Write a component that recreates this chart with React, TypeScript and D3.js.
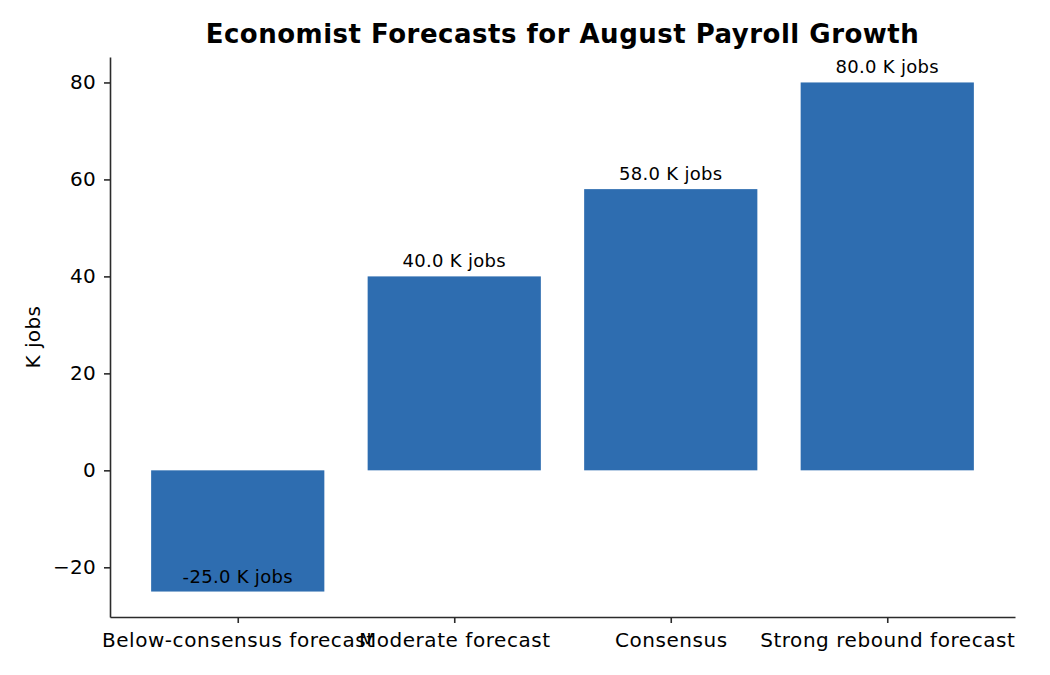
import { useEffect, useRef } from "react";
import * as d3 from "d3";

const categories = [
  "Below-consensus forecast",
  "Moderate forecast",
  "Consensus",
  "Strong rebound forecast",
];
const values = [-25, 40, 58, 80];
const yTicks = [-20, 0, 20, 40, 60, 80];

export default function App() {
  const width = 1050;
  const height = 675;
  const marginTop = 57;
  const marginRight = 35;
  const marginBottom = 58;
  const marginLeft = 110;
  const ref = useRef<SVGSVGElement>(null);

  useEffect(() => {
    const svg = d3.select(ref.current);
    svg.selectAll("*").remove();
    const font = "DejaVu Sans, sans-serif";
    const ink = "#2b2b2b";

    // matplotlib-like margins: bars 0.8 wide, 5% padding
    const n = categories.length;
    const x = d3
      .scaleLinear()
      .domain([-0.4 - 0.05 * (n - 0.2), n - 0.6 + 0.05 * (n - 0.2)])
      .range([marginLeft, width - marginRight]);
    const lo = Math.min(0, d3.min(values)!);
    const hi = Math.max(0, d3.max(values)!);
    const pad = (hi - lo) * 0.05;
    const y = d3
      .scaleLinear()
      .domain([lo - pad, hi + pad])
      .range([height - marginBottom, marginTop]);

    // bars
    svg
      .append("g")
      .selectAll("rect")
      .data(values)
      .enter()
      .append("rect")
      .attr("x", (d, i) => x(i - 0.4))
      .attr("width", x(0.8) - x(0))
      .attr("y", (d) => y(Math.max(0, d)))
      .attr("height", (d) => Math.abs(y(d) - y(0)))
      .attr("fill", "#2e6db0");

    // value labels
    svg
      .append("g")
      .selectAll("text")
      .data(values)
      .enter()
      .append("text")
      .attr("x", (d, i) => x(i))
      .attr("y", (d) => y(d) - 9)
      .attr("text-anchor", "middle")
      .style("font-family", font)
      .style("font-size", "18px")
      .style("letter-spacing", "0.3px")
      .text((d) => `${d.toFixed(1)} K jobs`);

    // x axis
    svg
      .append("g")
      .attr("transform", `translate(0, ${height - marginBottom})`)
      .call(
        d3
          .axisBottom(x)
          .tickValues(d3.range(n))
          .tickFormat((i) => categories[i as number])
          .tickSize(6)
          .tickSizeOuter(0),
      )
      .call((g) => g.select(".domain").attr("stroke", ink).attr("stroke-width", 1.6))
      .call((g) => g.selectAll(".tick line").attr("stroke", ink).attr("stroke-width", 1.6))
      .call((g) =>
        g
          .selectAll(".tick text")
          .attr("fill", "#000")
          .attr("y", 0)
          .attr("dy", 30)
          .style("font-family", font)
          .style("font-size", "20px")
          .style("letter-spacing", "0.55px"),
      );

    // y axis
    svg
      .append("g")
      .attr("transform", `translate(${marginLeft}, 0)`)
      .call(
        d3
          .axisLeft(y)
          .tickValues(yTicks)
          .tickFormat((d) => ((d as number) < 0 ? `\u2212${Math.abs(d as number)}` : `${d}`))
          .tickSize(6)
          .tickSizeOuter(0),
      )
      .call((g) => g.select(".domain").attr("stroke", ink).attr("stroke-width", 1.6))
      .call((g) => g.selectAll(".tick line").attr("stroke", ink).attr("stroke-width", 1.6))
      .call((g) =>
        g
          .selectAll(".tick text")
          .attr("fill", "#000")
          .attr("x", -14)
          .style("font-family", font)
          .style("font-size", "20px")
          .style("letter-spacing", "0.3px"),
      );

    // y label
    svg
      .append("text")
      .attr("transform", `translate(40, ${(marginTop + height - marginBottom) / 2}) rotate(-90)`)
      .attr("text-anchor", "middle")
      .style("font-family", font)
      .style("font-size", "20px")
      .style("letter-spacing", "0.4px")
      .text("K jobs");

    // title
    svg
      .append("text")
      .attr("x", (marginLeft + width - marginRight) / 2)
      .attr("y", 43)
      .attr("text-anchor", "middle")
      .style("font-family", font)
      .style("font-size", "26px")
      .style("font-weight", "bold")
      .style("letter-spacing", "0.5px")
      .text("Economist Forecasts for August Payroll Growth");
  }, []);

  return (
    <svg
      ref={ref}
      width={width}
      height={height}
      style={{ display: "block", margin: "-8px", background: "#fff" }}
    />
  );
}
